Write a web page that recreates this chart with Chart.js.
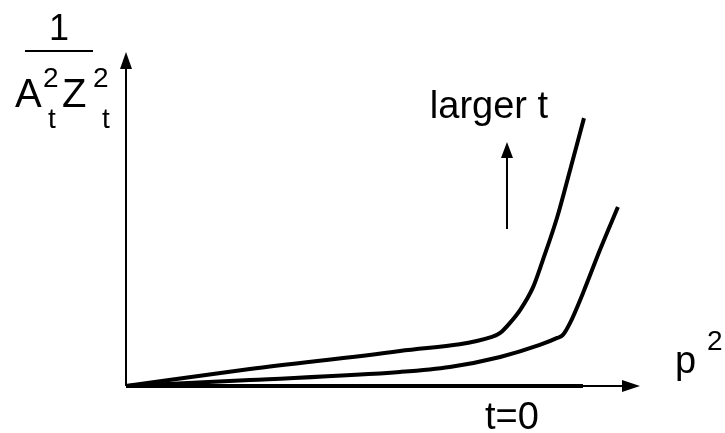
<!DOCTYPE html>
<html>
<head>
<meta charset="utf-8">
<script src="https://cdn.jsdelivr.net/npm/chart.js@4.4.1/dist/chart.umd.min.js"></script>
<style>
  html, body { margin: 0; padding: 0; background: #fff; }
  #wrap { width: 725px; height: 433px; }
</style>
</head>
<body>
<div id="wrap"><canvas id="sketch" width="725" height="433"></canvas></div>
<script>
/* schematic: 1/(A_t^2 Z_t^2) against p^2 */
const upperX = [0, 2.41, 5.33, 7.12, 7.28, 7.47, 7.67, 7.92, 8.11, 8.39, 8.64, 8.91];
const upperY = [0, 0.51, 1.05, 1.47, 1.59, 1.89, 2.28, 2.96, 3.77, 5.06, 6.47, 8.02];

const lowerX = [0, 2.41, 5.33, 6.30, 7.28, 8.05, 8.39, 8.50, 8.64, 8.89, 9.22, 9.57];
const lowerY = [0, 0.18, 0.42, 0.57, 0.87, 1.23, 1.44, 1.53, 1.89, 2.78, 4.07, 5.36];

const zeroX = [0, 8.89];
const zeroY = [0, 0];

const FONT = "'Liberation Sans', Arial, Helvetica, sans-serif";

function pts(xs, ys) {
  return xs.map((x, i) => ({ x: x, y: ys[i] }));
}

function arrowHead(ctx, x, y, dir, len, half) {
  ctx.beginPath();
  if (dir === "up") {
    ctx.moveTo(x, y);
    ctx.lineTo(x - half, y + len);
    ctx.lineTo(x + half, y + len);
  } else {
    ctx.moveTo(x, y);
    ctx.lineTo(x - len, y - half);
    ctx.lineTo(x - len, y + half);
  }
  ctx.closePath();
  ctx.fill();
}

function txt(ctx, s, x, y, size, align) {
  ctx.font = size + "px " + FONT;
  ctx.textAlign = align || "left";
  ctx.textBaseline = "alphabetic";
  ctx.fillText(s, x, y);
}

const decor = {
  id: "decor",
  beforeDatasetsDraw(chart) {
    const ctx = chart.ctx;
    const xs = chart.scales.x, ys = chart.scales.y;
    const x0 = xs.getPixelForValue(0), y0 = ys.getPixelForValue(0);
    const xEnd = xs.getPixelForValue(xs.max), yEnd = ys.getPixelForValue(ys.max);
    ctx.save();
    ctx.strokeStyle = "#000";
    ctx.fillStyle = "#000";
    ctx.lineWidth = 2;
    // axes
    ctx.beginPath();
    ctx.moveTo(x0, y0);
    ctx.lineTo(x0, yEnd + 10);
    ctx.moveTo(x0, y0);
    ctx.lineTo(xEnd - 10, y0);
    ctx.stroke();
    arrowHead(ctx, x0, yEnd, "up", 17, 6);
    arrowHead(ctx, xEnd, y0, "right", 18, 6);
    ctx.restore();
  },
  afterDraw(chart) {
    const ctx = chart.ctx;
    ctx.save();
    ctx.fillStyle = "#000";
    ctx.strokeStyle = "#000";
    // y label: 1 / (A_t^2 Z_t^2)
    txt(ctx, "1", 59, 40, 36, "center");
    ctx.lineWidth = 2;
    ctx.beginPath();
    ctx.moveTo(25, 51);
    ctx.lineTo(93, 51);
    ctx.stroke();
    txt(ctx, "A", 15, 107, 40);
    txt(ctx, "2", 43, 87, 28);
    txt(ctx, "t", 48, 128, 28);
    txt(ctx, "Z", 62, 107, 40);
    txt(ctx, "2", 93, 87, 28);
    txt(ctx, "t", 102, 128, 28);
    // x label
    txt(ctx, "p", 675, 373, 38);
    txt(ctx, "2", 707, 350, 28);
    // annotations
    txt(ctx, "larger t", 489, 118, 38, "center");
    txt(ctx, "t=0", 512, 429, 38, "center");
    ctx.lineWidth = 2;
    ctx.beginPath();
    ctx.moveTo(507, 229);
    ctx.lineTo(507, 152);
    ctx.stroke();
    arrowHead(ctx, 507, 142, "up", 16, 6);
    ctx.restore();
  }
};

const lineStyle = {
  borderColor: "#000",
  borderWidth: 4,
  pointRadius: 0,
  fill: false,
  clip: false,
  cubicInterpolationMode: "monotone",
  borderCapStyle: "butt",
  borderJoinStyle: "round"
};

new Chart(document.getElementById("sketch"), {
  type: "line",
  data: {
    datasets: [
      Object.assign({ label: "t=0", data: pts(zeroX, zeroY) }, lineStyle),
      Object.assign({ label: "mid t", data: pts(lowerX, lowerY) }, lineStyle),
      Object.assign({ label: "larger t", data: pts(upperX, upperY) }, lineStyle),
    ],
  },
  options: {
    responsive: false,
    animation: false,
    layout: { padding: { left: 126, right: 85, top: 52, bottom: 47 } },
    plugins: {
      legend: { display: false },
      tooltip: { enabled: false },
    },
    scales: {
      x: { type: "linear", min: 0, max: 10, display: false },
      y: { type: "linear", min: 0, max: 10, display: false },
    },
  },
  plugins: [decor],
});
</script>
</body>
</html>
